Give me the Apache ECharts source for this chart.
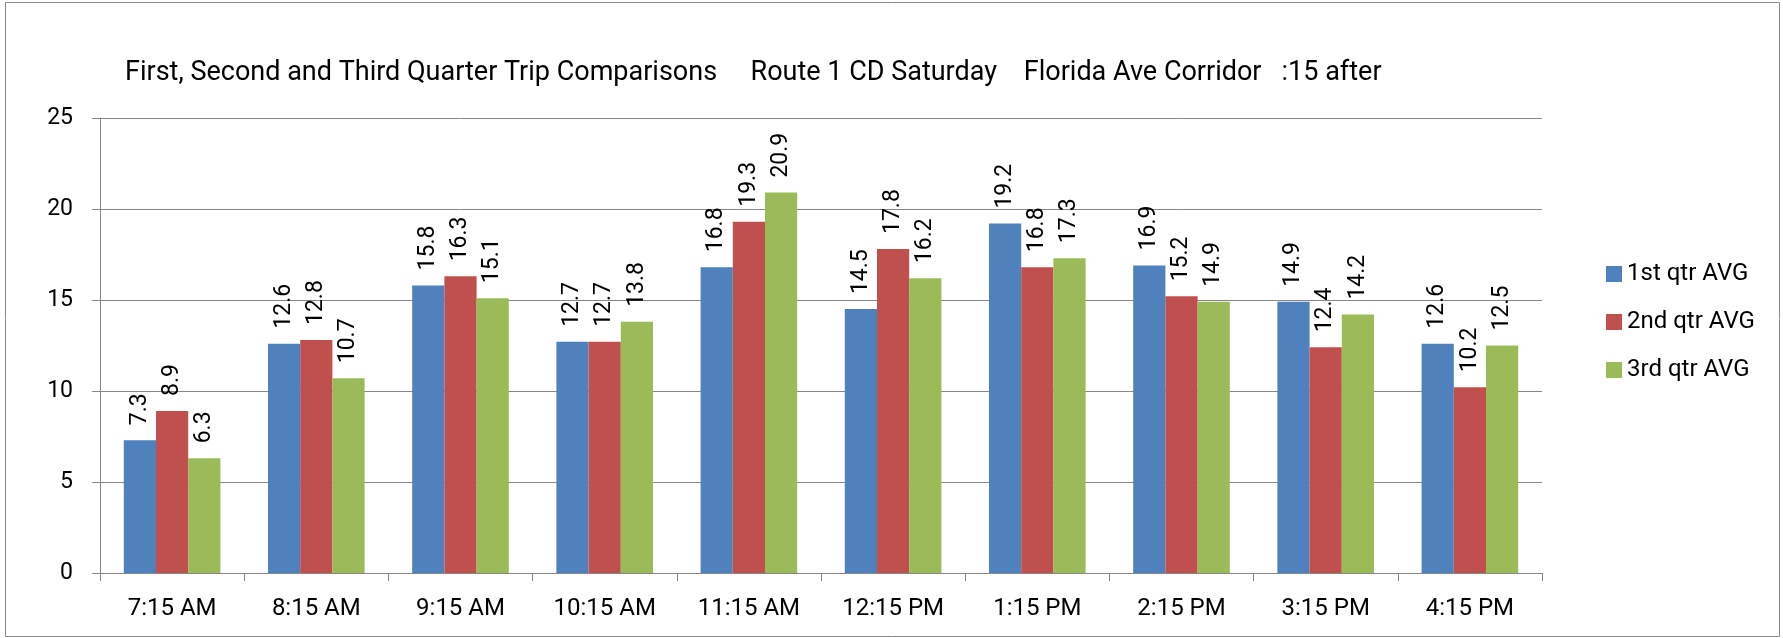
<!DOCTYPE html>
<html>
<head>
<meta charset="utf-8">
<script src="https://cdn.jsdelivr.net/npm/echarts@6/dist/echarts.min.js"></script>
<style>
  html, body { margin: 0; padding: 0; background: #fff; }
  #chart { width: 1783px; height: 638px; }
</style>
</head>
<body>
<div id="chart"></div>
<script>
var categories = ['7:15 AM', '8:15 AM', '9:15 AM', '10:15 AM', '11:15 AM', '12:15 PM', '1:15 PM', '2:15 PM', '3:15 PM', '4:15 PM']
var qtr1 = [7.3, 12.6, 15.8, 12.7, 16.8, 14.5, 19.2, 16.9, 14.9, 12.6]
var qtr2 = [8.9, 12.8, 16.3, 12.7, 19.3, 17.8, 16.8, 15.2, 12.4, 10.2]
var qtr3 = [6.3, 10.7, 15.1, 13.8, 20.9, 16.2, 17.3, 14.9, 14.2, 12.5]
var seriesNames = ['1st qtr AVG', '2nd qtr AVG', '3rd qtr AVG']
var colors = ['#4F81BD', '#C0504D', '#9BBB59']

var font = 'Roboto, "Liberation Sans", sans-serif'
var myChart = echarts.init(document.getElementById('chart'))

// rotated value label above each bar
var barLabel = {
    show: true,
    position: 'top',
    rotate: 90,
    align: 'left',
    verticalAlign: 'middle',
    distance: 15,
    color: '#000',
    fontSize: 23,
    fontFamily: font
}

myChart.setOption({
    animation: false,
    title: {
        text: 'First, Second and Third Quarter Trip Comparisons     Route 1 CD Saturday    Florida Ave Corridor   :15 after',
        left: 120,
        top: 55,
        textStyle: { color: '#000', fontSize: 27, fontWeight: 'normal', fontFamily: font }
    },
    legend: {
        orient: 'vertical',
        left: 1601,
        top: 257,
        itemWidth: 16,
        itemHeight: 16,
        itemGap: 24,
        icon: 'rect',
        textStyle: { color: '#000', fontSize: 24, fontFamily: font },
        data: seriesNames
    },
    graphic: [{
        type: 'rect',
        shape: { x: 5.5, y: 2.5, width: 1774, height: 634 },
        style: { fill: 'none', stroke: '#8a8a8a', lineWidth: 1 },
        silent: true
    }],
    grid: {
        left: 100,
        right: 241,
        top: 118,
        bottom: 65,
        containLabel: false
    },
    xAxis: {
        type: 'category',
        data: categories,
        axisLine: { lineStyle: { color: '#868686' } },
        axisTick: { show: true, length: 8, lineStyle: { color: '#868686' } },
        axisLabel: { color: '#000', fontSize: 24, fontFamily: font, margin: 24 }
    },
    yAxis: {
        type: 'value',
        min: 0,
        max: 25,
        interval: 5,
        axisLine: { show: true, lineStyle: { color: '#868686' } },
        axisTick: { show: true, length: 8, lineStyle: { color: '#868686' } },
        axisLabel: { color: '#000', fontSize: 23, fontFamily: font, margin: 27 },
        splitLine: { lineStyle: { color: '#868686' } }
    },
    series: [qtr1, qtr2, qtr3].map((values, i) => ({
        name: seriesNames[i],
        type: 'bar',
        data: values,
        barGap: '0%',
        barCategoryGap: '33%',
        itemStyle: { color: colors[i] },
        label: barLabel
    }))
})
</script>
</body>
</html>
